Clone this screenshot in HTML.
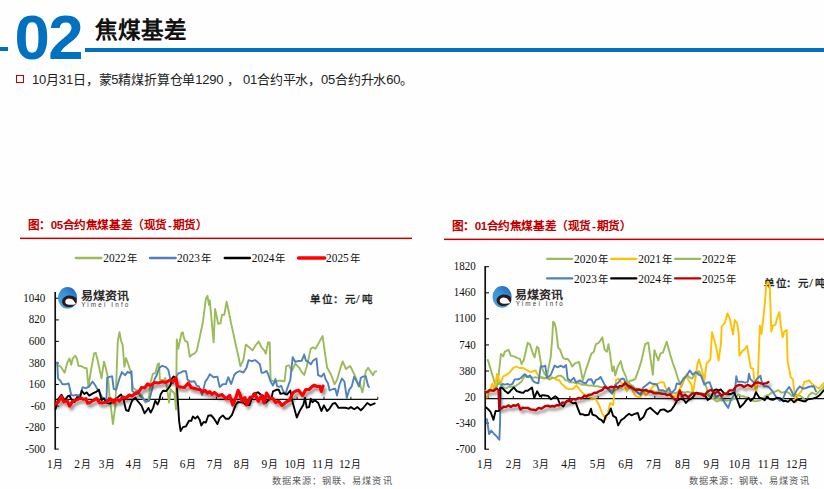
<!DOCTYPE html>
<html lang="zh-CN"><head><meta charset="utf-8">
<style>
html,body{margin:0;padding:0;background:#fefefe;}
body{width:824px;height:489px;position:relative;overflow:hidden;font-family:"Liberation Sans",sans-serif;}
.abs{position:absolute;white-space:nowrap;}
#num{left:14.6px;top:2.6px;font-size:63.5px;font-weight:bold;color:#0070c0;line-height:68px;letter-spacing:-1.6px;}
#ttl{left:95px;top:15.6px;font-size:22.6px;font-weight:bold;color:#111;line-height:30px;}
#txt{left:32px;top:70.8px;font-size:13px;color:#222;line-height:18px;letter-spacing:-0.2px;}
svg{position:absolute;left:0;top:0;}
</style></head><body>
<div class="abs" style="left:0;top:47px;width:8px;height:4px;background:#0070c0"></div>
<div class="abs" style="left:85px;top:48px;width:739px;height:4px;background:#0070c0"></div>
<div class="abs" id="num">02</div>
<div class="abs" id="ttl">焦煤基差</div>
<div class="abs" style="left:16px;top:75px;width:5.5px;height:5.5px;border:1.9px solid #c00000"></div>
<div class="abs" id="txt">10月31日，蒙5精煤折算仓单1290 ， 01合约平水，05合约升水60。</div>
<svg width="824" height="489" viewBox="0 0 824 489">
<defs>
<linearGradient id="lg" x1="0.2" y1="0.9" x2="0.8" y2="0"><stop offset="0" stop-color="#45a0de"/><stop offset="0.55" stop-color="#3a92d6"/><stop offset="0.9" stop-color="#2a6fc0"/><stop offset="1" stop-color="#1a4fa0"/></linearGradient>
<filter id="sh" x="-10%" y="-50%" width="120%" height="200%"><feGaussianBlur in="SourceAlpha" stdDeviation="1.6"/><feOffset dx="2" dy="3" result="b"/><feComponentTransfer><feFuncA type="linear" slope="0.45"/></feComponentTransfer><feMerge><feMergeNode/><feMergeNode in="SourceGraphic"/></feMerge></filter>
</defs>
<g font-family="Liberation Sans" font-weight="bold" font-size="11.6" letter-spacing="-0.43" fill="#c00000">
<text x="27.6" y="229">图：05合约焦煤基差（现货<tspan dx="1">-</tspan><tspan dx="1.5">期货）</tspan></text>
<text x="451.6" y="230">图：01合约焦煤基差（现货<tspan dx="1">-</tspan><tspan dx="1.5">期货）</tspan></text>
</g>
<rect x="20" y="237.6" width="392" height="1.5" fill="#c00000"/>
<rect x="444" y="238.6" width="380" height="1.5" fill="#c00000"/>
<g font-family="Liberation Serif" fill="#111">
<line x1="75.8" y1="258" x2="101.5" y2="258" stroke="#9bbb59" stroke-width="2.3" stroke-linecap="round"/><text transform="translate(103.30,262.10) scale(1,1.15)" font-size="11.4" >2022</text><text x="126.90" y="262.30" font-size="10.4">年</text>
<line x1="150.0" y1="258" x2="175.7" y2="258" stroke="#4f81bd" stroke-width="2.3" stroke-linecap="round"/><text transform="translate(177.10,262.10) scale(1,1.15)" font-size="11.4" >2023</text><text x="200.70" y="262.30" font-size="10.4">年</text>
<line x1="224.7" y1="258" x2="250.0" y2="258" stroke="#000" stroke-width="2.3" stroke-linecap="round"/><text transform="translate(251.80,262.10) scale(1,1.15)" font-size="11.4" >2024</text><text x="275.40" y="262.30" font-size="10.4">年</text>
<line x1="298.5" y1="258" x2="324.7" y2="258" stroke="#ff0000" stroke-width="3.3" stroke-linecap="round"/><text transform="translate(326.00,262.10) scale(1,1.15)" font-size="11.4" >2025</text><text x="349.60" y="262.30" font-size="10.4">年</text>
<text transform="translate(45.30,301.90) scale(1,1.13)" font-size="11" text-anchor="end" >1040</text>
<text transform="translate(45.30,323.45) scale(1,1.13)" font-size="11" text-anchor="end" >820</text>
<text transform="translate(45.30,345.00) scale(1,1.13)" font-size="11" text-anchor="end" >600</text>
<text transform="translate(45.30,366.55) scale(1,1.13)" font-size="11" text-anchor="end" >380</text>
<text transform="translate(45.30,388.10) scale(1,1.13)" font-size="11" text-anchor="end" >160</text>
<text transform="translate(45.30,409.65) scale(1,1.13)" font-size="11" text-anchor="end" >-60</text>
<text transform="translate(45.30,431.20) scale(1,1.13)" font-size="11" text-anchor="end" >-280</text>
<text transform="translate(45.30,452.75) scale(1,1.13)" font-size="11" text-anchor="end" >-500</text>
<text transform="translate(47.00,468.00) scale(1,1.1)" font-size="11.4" >1</text><text x="53.20" y="468.3" font-size="9.8">月</text>
<text transform="translate(74.30,468.00) scale(1,1.1)" font-size="11.4" >2</text><text x="80.50" y="468.3" font-size="9.8">月</text>
<text transform="translate(98.80,468.00) scale(1,1.1)" font-size="11.4" >3</text><text x="105.00" y="468.3" font-size="9.8">月</text>
<text transform="translate(125.50,468.00) scale(1,1.1)" font-size="11.4" >4</text><text x="131.70" y="468.3" font-size="9.8">月</text>
<text transform="translate(152.80,468.00) scale(1,1.1)" font-size="11.4" >5</text><text x="159.00" y="468.3" font-size="9.8">月</text>
<text transform="translate(179.80,468.00) scale(1,1.1)" font-size="11.4" >6</text><text x="186.00" y="468.3" font-size="9.8">月</text>
<text transform="translate(206.80,468.00) scale(1,1.1)" font-size="11.4" >7</text><text x="213.00" y="468.3" font-size="9.8">月</text>
<text transform="translate(233.80,468.00) scale(1,1.1)" font-size="11.4" >8</text><text x="240.00" y="468.3" font-size="9.8">月</text>
<text transform="translate(261.50,468.00) scale(1,1.1)" font-size="11.4" >9</text><text x="267.70" y="468.3" font-size="9.8">月</text>
<text transform="translate(284.40,468.00) scale(1,1.1)" font-size="11.4" >10</text><text x="296.30" y="468.3" font-size="9.8">月</text>
<text transform="translate(311.90,468.00) scale(1,1.1)" font-size="11.4" >11</text><text x="323.80" y="468.3" font-size="9.8">月</text>
<text transform="translate(338.90,468.00) scale(1,1.1)" font-size="11.4" >12</text><text x="350.80" y="468.3" font-size="9.8">月</text>
</g>
<g stroke="#111" fill="none">
<line x1="55.2" y1="292" x2="55.2" y2="449.5" stroke-width="1.7"/>
<line x1="55" y1="298.3" x2="58.8" y2="298.3" stroke-width="1.1"/>
<line x1="55" y1="319.9" x2="58.8" y2="319.9" stroke-width="1.1"/>
<line x1="55" y1="341.4" x2="58.8" y2="341.4" stroke-width="1.1"/>
<line x1="55" y1="363.0" x2="58.8" y2="363.0" stroke-width="1.1"/>
<line x1="55" y1="384.5" x2="58.8" y2="384.5" stroke-width="1.1"/>
<line x1="55" y1="406.1" x2="58.8" y2="406.1" stroke-width="1.1"/>
<line x1="55" y1="427.6" x2="58.8" y2="427.6" stroke-width="1.1"/>
<line x1="55" y1="449.1" x2="58.8" y2="449.1" stroke-width="1.1"/>
<line x1="55" y1="399.4" x2="377.8" y2="399.4" stroke-width="1.1"/>
<line x1="81.9" y1="396.8" x2="81.9" y2="399.4" stroke-width="1"/>
<line x1="108.8" y1="396.8" x2="108.8" y2="399.4" stroke-width="1"/>
<line x1="135.7" y1="396.8" x2="135.7" y2="399.4" stroke-width="1"/>
<line x1="162.6" y1="396.8" x2="162.6" y2="399.4" stroke-width="1"/>
<line x1="189.5" y1="396.8" x2="189.5" y2="399.4" stroke-width="1"/>
<line x1="216.4" y1="396.8" x2="216.4" y2="399.4" stroke-width="1"/>
<line x1="243.3" y1="396.8" x2="243.3" y2="399.4" stroke-width="1"/>
<line x1="270.2" y1="396.8" x2="270.2" y2="399.4" stroke-width="1"/>
<line x1="297.1" y1="396.8" x2="297.1" y2="399.4" stroke-width="1"/>
<line x1="324.0" y1="396.8" x2="324.0" y2="399.4" stroke-width="1"/>
<line x1="350.9" y1="396.8" x2="350.9" y2="399.4" stroke-width="1"/>
<line x1="377.8" y1="396.8" x2="377.8" y2="399.4" stroke-width="1"/>
</g>
<g transform="translate(54,283)">
<ellipse cx="13.6" cy="14.9" rx="9.6" ry="10.9" fill="url(#lg)"/>
<path d="M22.2,15 C20.5,13.6 18,12.4 15.3,12.5 C12,12.6 9,14.5 8.2,17.3 C7.6,20.2 9.5,23.2 13,23.9 C16.5,24.5 20,22.9 22.2,20.9 C22.9,19.2 22.9,16.8 22.2,15 Z" fill="#2a1a1a"/>
<path d="M11.2,18.9 C11.1,16.9 12.9,15.5 15,15.5 C16.8,15.5 18.4,16.2 19.5,17.4 C20.4,18.4 21,19.8 22,20.9 C19.8,21.8 17.5,21.9 15.3,21.7 C13,21.5 11.3,20.5 11.2,18.9 Z" fill="#fff"/>
<text transform="translate(26.5,16.6) scale(1,0.93)" font-family="Liberation Sans" font-weight="bold" font-size="12" letter-spacing="-0.3" fill="#2e2a2a">易煤资讯</text>
<text x="27.2" y="23.5" font-family="Liberation Sans" font-size="6.3" letter-spacing="2.15" fill="#3a3a3a">Yimei Info</text>
</g>
<g font-family="Liberation Sans" font-size="10.5" fill="#1a1a1a" stroke="#1a1a1a" stroke-width="0.35"><text x="310.4" y="303.2">单</text><text x="322.4" y="303.2">位</text><text x="333.0" y="303.2">：</text><text x="344.6" y="303.2">元</text><text x="361.6" y="303.2">吨</text><text x="356.0" y="303.4" font-family="Liberation Serif" font-weight="normal" stroke-width="0.2" font-size="13">/</text></g>
<text x="272" y="483.5" font-family="Liberation Sans" font-size="9.2" letter-spacing="1.05" fill="#5a5a5a">数据来源：钢联、易煤资讯</text>
<polyline points="57.3,365.3 60.5,366.3 64.6,372.7 67.1,363.3 69.5,358.4 71.2,364.8 72.8,358.3 75.3,355.7 76.9,358.4 78.5,365.7 81.2,366.0 84.0,367.7 86.7,368.3 88.4,386.4 91.2,369.2 94.1,353.4 95.7,352.8 97.4,359.2 99.0,366.5 101.5,378.4 104.0,361.6 105.6,367.2 108.0,377.8 109.6,396.3 111.3,410.5 112.9,424.0 115.4,405.6 117.8,340.9 119.5,332.2 121.1,341.0 122.7,345.2 124.4,366.8 126.0,358.3 127.6,362.3 131.0,372.6 133.0,387.9 136.1,390.1 139.2,393.5 142.3,396.3 145.3,402.6 148.4,401.0 150.7,381.8 153.0,373.6 155.3,373.3 157.6,364.4 159.1,363.4 159.9,379.7 163.7,380.4 165.3,378.1 166.8,386.6 169.1,402.6 170.6,389.3 174.5,393.5 176.0,409.5 176.8,339.5 178.3,348.8 181.4,333.4 182.9,332.4 183.7,337.1 185.2,341.0 187.5,341.9 189.8,356.9 192.1,354.6 194.4,353.6 196.7,350.9 199.8,336.9 202.9,322.0 205.9,298.6 207.5,295.9 209.0,305.0 209.8,300.5 213.6,342.4 215.1,308.9 218.2,323.9 220.5,323.3 222.0,314.7 224.3,314.9 226.6,301.7 228.9,312.3 231.2,323.9 233.5,334.0 235.8,345.3 238.1,355.0 240.4,366.3 243.5,359.5 245.8,344.6 250.0,348.1 252.4,350.4 255.6,345.3 258.7,341.5 261.8,347.9 264.2,350.2 265.8,353.7 268.1,342.4 269.7,342.5 270.6,379.9 274.7,381.8 278.0,380.6 281.2,380.8 284.5,381.4 286.2,366.1 289.0,365.3 291.9,371.1 295.2,363.7 299.3,367.8 301.8,372.2 304.2,375.0 306.7,366.7 310.7,348.9 313.1,347.3 315.5,348.7 317.8,344.6 320.2,340.3 322.6,336.1 324.9,352.6 327.1,367.5 331.2,375.0 334.5,384.2 337.0,380.0 340.3,368.4 342.7,361.4 346.0,369.1 350.1,366.0 352.6,370.8 355.0,375.9 357.5,382.2 359.9,384.1 362.4,392.3 364.0,384.2 365.7,371.6 368.1,367.7 370.6,371.6 373.0,375.3 374.7,371.7 376.3,371.4" fill="none" stroke="#9bbb59" stroke-width="1.9" stroke-linejoin="round" stroke-linecap="round" />
<polyline points="57.3,362.5 58.0,378.3 60.5,380.9 62.2,384.1 63.8,384.3 66.0,384.2 68.7,383.4 70.4,391.2 71.2,394.8 73.5,395.6 75.7,394.8 78.0,395.5 80.2,394.8 82.6,387.2 85.9,388.3 89.2,386.4 92.5,381.5 94.9,384.7 97.4,389.1 99.8,392.9 103.0,398.6 106.4,400.3 107.2,377.7 109.6,376.8 112.1,376.2 113.7,388.8 116.2,389.8 119.5,378.3 121.9,372.1 125.2,375.2 127.6,371.8 130.1,373.2 131.5,371.2 132.3,390.9 134.6,392.7 137.7,390.4 140.0,395.8 143.8,399.5 146.1,401.2 149.2,400.8 152.2,388.7 154.5,379.5 156.8,375.0 159.1,368.1 162.2,365.8 166.0,367.2 168.3,369.8 170.6,380.4 173.0,383.3 176.0,377.4 178.3,373.4 180.6,372.6 182.9,371.2 186.0,371.1 187.5,379.6 190.6,381.7 194.4,381.3 196.7,385.6 199.0,386.5 202.1,394.9 205.2,381.9 207.5,378.6 209.8,374.2 213.6,377.2 217.4,376.6 219.7,387.0 222.8,384.2 225.9,384.1 228.2,377.2 231.2,384.0 234.3,375.0 236.6,372.5 239.7,371.1 243.5,372.5 246.6,367.5 248.5,360.2 251.7,361.2 255.0,360.1 257.5,362.1 259.9,364.2 261.6,372.8 264.1,372.5 266.5,370.9 268.1,374.2 270.6,381.5 273.0,385.5 275.5,379.1 277.1,386.4 279.6,386.8 281.2,385.7 282.9,390.5 285.3,394.5 287.8,386.8 290.3,380.0 292.7,357.2 295.2,361.8 298.4,361.0 301.7,360.9 304.2,354.6 305.8,360.4 308.4,362.1 310.8,364.3 313.2,360.5 316.5,358.6 318.1,375.1 321.4,376.7 323.9,373.5 325.5,379.0 328.0,383.4 329.6,390.5 332.9,389.0 335.3,388.8 337.0,395.5 339.4,385.0 341.9,378.6 344.4,381.5 346.8,397.9 349.3,389.6 351.7,386.5 354.2,376.6 356.7,381.6 359.1,386.5 360.8,377.8 363.2,376.5 365.7,376.1 368.1,385.7 369.0,387.0" fill="none" stroke="#4f81bd" stroke-width="1.9" stroke-linejoin="round" stroke-linecap="round" />
<polyline points="55.6,409.0 58.0,399.3 61.4,394.7 64.6,400.5 67.9,396.2 69.5,395.5 71.2,399.0 74.5,402.0 76.9,397.3 80.2,397.4 81.8,390.7 84.3,394.0 86.7,392.4 89.2,395.6 93.3,393.1 96.6,391.6 99.0,389.8 101.5,400.2 103.9,398.2 106.4,402.9 109.6,403.6 112.9,401.6 116.2,398.7 118.6,396.6 121.1,394.6 123.6,400.0 126.0,410.1 128.5,411.0 130.9,403.6 132.3,400.3 135.4,397.7 138.0,401.5 141.5,405.6 144.6,413.3 146.9,410.2 148.4,407.9 150.7,412.6 153.0,408.1 155.3,400.8 157.6,404.4 159.1,400.9 160.7,394.2 163.0,390.8 166.0,391.0 168.3,388.6 170.6,384.9 172.2,378.1 173.7,376.4 175.2,377.9 176.8,384.1 179.1,420.9 180.6,431.1 182.9,427.1 186.0,426.3 189.0,420.8 191.3,420.9 192.9,416.4 195.2,418.6 197.5,416.3 199.8,420.0 201.3,425.5 203.6,422.0 205.9,422.5 208.2,415.8 211.3,415.3 214.4,419.2 217.4,424.1 219.7,418.1 222.8,415.4 225.9,418.8 228.9,418.7 232.0,414.8 235.8,404.6 238.1,402.0 240.4,402.4 243.5,402.5 246.0,405.4 249.6,404.9 253.4,393.7 255.8,393.0 258.0,392.3 260.8,394.8 263.0,395.4 265.7,402.8 268.0,400.5 271.4,398.1 273.0,391.4 276.3,389.8 278.8,389.6 280.4,393.9 283.7,393.1 287.0,394.6 290.3,390.5 291.9,399.6 294.4,408.8 296.8,417.5 300.1,410.2 303.4,404.7 305.0,397.9 306.7,407.7 309.1,407.1 310.8,398.8 312.4,402.2 314.9,400.2 318.1,402.7 321.4,411.0 323.9,405.4 327.1,411.0 329.6,408.6 332.9,403.6 335.3,403.0 338.6,407.9 341.9,407.7 345.2,407.7 348.5,408.7 350.9,407.1 354.2,409.2 357.5,407.1 360.8,410.3 363.2,408.0 367.3,403.0 370.6,405.2 374.7,403.4" fill="none" stroke="#000" stroke-width="1.9" stroke-linejoin="round" stroke-linecap="round" />
<g filter="url(#sh)"><polyline points="55.6,404.0 58.0,402.4 61.4,396.6 63.8,401.8 67.1,400.7 69.5,406.0 72.8,401.2 76.9,399.7 80.2,398.1 83.5,399.2 85.9,398.7 87.6,403.1 90.0,402.5 93.3,400.5 96.6,398.4 99.8,402.7 103.0,402.8 106.4,402.0 110.5,398.7 113.7,402.6 116.2,398.9 119.5,401.1 122.7,397.1 126.0,398.0 129.3,395.0 131.9,396.0 134.6,394.0 138.4,392.7 141.5,387.5 144.6,387.9 147.6,384.0 150.7,385.6 154.5,382.5 158.4,383.0 162.2,381.8 166.0,382.4 169.9,380.2 172.9,381.3 176.0,377.9 177.5,386.7 180.6,387.0 184.4,387.5 188.3,383.0 191.3,387.8 194.4,388.4 197.5,389.3 200.6,389.9 202.9,391.8 205.2,390.4 207.5,393.2 209.8,391.7 212.1,394.4 214.4,392.4 218.2,395.8 222.0,394.6 225.9,398.7 229.7,395.4 232.8,405.0 235.8,397.7 238.1,390.4 239.7,393.5 242.0,401.0 245.0,397.7 246.6,404.9 250.0,397.3 252.6,396.7 255.0,393.8 258.3,401.3 261.6,395.4 264.0,403.0 266.5,393.1 269.8,398.4 273.0,398.7 275.5,402.4 278.8,401.3 282.0,405.5 286.2,402.0 289.4,400.3 292.7,393.0 295.2,391.3 298.5,390.3 302.6,395.6 305.8,389.6 309.1,389.5 311.0,387.6 314.0,385.2 317.3,386.5 319.8,386.3 321.4,391.4 323.0,386.1" fill="none" stroke="#ff0000" stroke-width="3.2" stroke-linejoin="round" stroke-linecap="round" /></g>
<g font-family="Liberation Serif" fill="#111">
<line x1="547.1" y1="258.8" x2="572.2" y2="258.8" stroke="#9bbb59" stroke-width="2.3" stroke-linecap="round"/><text transform="translate(574.10,262.90) scale(1,1.15)" font-size="11.4" >2020</text><text x="597.70" y="263.10" font-size="10.4">年</text>
<line x1="611.2" y1="258.8" x2="636.3000000000001" y2="258.8" stroke="#ffc000" stroke-width="2.3" stroke-linecap="round"/><text transform="translate(638.20,262.90) scale(1,1.15)" font-size="11.4" >2021</text><text x="661.80" y="263.10" font-size="10.4">年</text>
<line x1="675.1" y1="258.8" x2="700.2" y2="258.8" stroke="#9bbb59" stroke-width="2.3" stroke-linecap="round"/><text transform="translate(702.10,262.90) scale(1,1.15)" font-size="11.4" >2022</text><text x="725.70" y="263.10" font-size="10.4">年</text>
<line x1="547.1" y1="278.4" x2="572.2" y2="278.4" stroke="#4f81bd" stroke-width="2.3" stroke-linecap="round"/><text transform="translate(574.10,282.50) scale(1,1.15)" font-size="11.4" >2023</text><text x="597.70" y="282.70" font-size="10.4">年</text>
<line x1="611.2" y1="278.4" x2="636.3000000000001" y2="278.4" stroke="#000" stroke-width="2.3" stroke-linecap="round"/><text transform="translate(638.20,282.50) scale(1,1.15)" font-size="11.4" >2024</text><text x="661.80" y="282.70" font-size="10.4">年</text>
<line x1="675.1" y1="278.4" x2="700.2" y2="278.4" stroke="#c00000" stroke-width="2.3" stroke-linecap="round"/><text transform="translate(702.10,282.50) scale(1,1.15)" font-size="11.4" >2025</text><text x="725.70" y="282.70" font-size="10.4">年</text>
<text transform="translate(475.80,270.30) scale(1,1.13)" font-size="11" text-anchor="end" >1820</text>
<text transform="translate(475.80,296.37) scale(1,1.13)" font-size="11" text-anchor="end" >1460</text>
<text transform="translate(475.80,322.44) scale(1,1.13)" font-size="11" text-anchor="end" >1100</text>
<text transform="translate(475.80,348.51) scale(1,1.13)" font-size="11" text-anchor="end" >740</text>
<text transform="translate(475.80,374.58) scale(1,1.13)" font-size="11" text-anchor="end" >380</text>
<text transform="translate(475.80,400.65) scale(1,1.13)" font-size="11" text-anchor="end" >20</text>
<text transform="translate(475.80,426.72) scale(1,1.13)" font-size="11" text-anchor="end" >-340</text>
<text transform="translate(475.80,452.79) scale(1,1.13)" font-size="11" text-anchor="end" >-700</text>
<text transform="translate(476.90,468.00) scale(1,1.1)" font-size="11.4" >1</text><text x="483.10" y="468.3" font-size="9.8">月</text>
<text transform="translate(505.80,468.00) scale(1,1.1)" font-size="11.4" >2</text><text x="512.00" y="468.3" font-size="9.8">月</text>
<text transform="translate(532.70,468.00) scale(1,1.1)" font-size="11.4" >3</text><text x="538.90" y="468.3" font-size="9.8">月</text>
<text transform="translate(561.20,468.00) scale(1,1.1)" font-size="11.4" >4</text><text x="567.40" y="468.3" font-size="9.8">月</text>
<text transform="translate(589.80,468.00) scale(1,1.1)" font-size="11.4" >5</text><text x="596.00" y="468.3" font-size="9.8">月</text>
<text transform="translate(618.20,468.00) scale(1,1.1)" font-size="11.4" >6</text><text x="624.40" y="468.3" font-size="9.8">月</text>
<text transform="translate(646.10,468.00) scale(1,1.1)" font-size="11.4" >7</text><text x="652.30" y="468.3" font-size="9.8">月</text>
<text transform="translate(675.00,468.00) scale(1,1.1)" font-size="11.4" >8</text><text x="681.20" y="468.3" font-size="9.8">月</text>
<text transform="translate(703.40,468.00) scale(1,1.1)" font-size="11.4" >9</text><text x="709.60" y="468.3" font-size="9.8">月</text>
<text transform="translate(728.70,468.00) scale(1,1.1)" font-size="11.4" >10</text><text x="740.60" y="468.3" font-size="9.8">月</text>
<text transform="translate(757.70,468.00) scale(1,1.1)" font-size="11.4" >11</text><text x="769.60" y="468.3" font-size="9.8">月</text>
<text transform="translate(786.10,468.00) scale(1,1.1)" font-size="11.4" >12</text><text x="798.00" y="468.3" font-size="9.8">月</text>
</g>
<g stroke="#111" fill="none">
<line x1="485.2" y1="266" x2="485.2" y2="449.7" stroke-width="1.7"/>
<line x1="485" y1="266.7" x2="489" y2="266.7" stroke-width="1.1"/>
<line x1="485" y1="292.8" x2="489" y2="292.8" stroke-width="1.1"/>
<line x1="485" y1="318.8" x2="489" y2="318.8" stroke-width="1.1"/>
<line x1="485" y1="344.9" x2="489" y2="344.9" stroke-width="1.1"/>
<line x1="485" y1="371.0" x2="489" y2="371.0" stroke-width="1.1"/>
<line x1="485" y1="397.0" x2="489" y2="397.0" stroke-width="1.1"/>
<line x1="485" y1="423.1" x2="489" y2="423.1" stroke-width="1.1"/>
<line x1="485" y1="449.2" x2="489" y2="449.2" stroke-width="1.1"/>
<line x1="485" y1="398.6" x2="824" y2="398.6" stroke-width="1.1"/>
<line x1="513.3" y1="396" x2="513.3" y2="398.6" stroke-width="1"/>
<line x1="541.6" y1="396" x2="541.6" y2="398.6" stroke-width="1"/>
<line x1="569.9" y1="396" x2="569.9" y2="398.6" stroke-width="1"/>
<line x1="598.2" y1="396" x2="598.2" y2="398.6" stroke-width="1"/>
<line x1="626.5" y1="396" x2="626.5" y2="398.6" stroke-width="1"/>
<line x1="654.8" y1="396" x2="654.8" y2="398.6" stroke-width="1"/>
<line x1="683.1" y1="396" x2="683.1" y2="398.6" stroke-width="1"/>
<line x1="711.4" y1="396" x2="711.4" y2="398.6" stroke-width="1"/>
<line x1="739.7" y1="396" x2="739.7" y2="398.6" stroke-width="1"/>
<line x1="768.0" y1="396" x2="768.0" y2="398.6" stroke-width="1"/>
<line x1="796.3" y1="396" x2="796.3" y2="398.6" stroke-width="1"/>
</g>
<g transform="translate(488.5,282)">
<ellipse cx="13.6" cy="14.9" rx="9.6" ry="10.9" fill="url(#lg)"/>
<path d="M22.2,15 C20.5,13.6 18,12.4 15.3,12.5 C12,12.6 9,14.5 8.2,17.3 C7.6,20.2 9.5,23.2 13,23.9 C16.5,24.5 20,22.9 22.2,20.9 C22.9,19.2 22.9,16.8 22.2,15 Z" fill="#2a1a1a"/>
<path d="M11.2,18.9 C11.1,16.9 12.9,15.5 15,15.5 C16.8,15.5 18.4,16.2 19.5,17.4 C20.4,18.4 21,19.8 22,20.9 C19.8,21.8 17.5,21.9 15.3,21.7 C13,21.5 11.3,20.5 11.2,18.9 Z" fill="#fff"/>
<text transform="translate(26.5,16.6) scale(1,0.93)" font-family="Liberation Sans" font-weight="bold" font-size="12" letter-spacing="-0.3" fill="#2e2a2a">易煤资讯</text>
<text x="27.2" y="23.5" font-family="Liberation Sans" font-size="6.3" letter-spacing="2.15" fill="#3a3a3a">Yimei Info</text>
</g>
<g font-family="Liberation Sans" font-size="10.5" fill="#1a1a1a" stroke="#1a1a1a" stroke-width="0.35"><text x="763.6" y="287">单</text><text x="775.6" y="287">位</text><text x="786.2" y="287">：</text><text x="797.8" y="287">元</text><text x="814.8" y="287">吨</text><text x="809.2" y="287.2" font-family="Liberation Serif" font-weight="normal" stroke-width="0.2" font-size="13">/</text></g>
<text x="689" y="484.3" font-family="Liberation Sans" font-size="9.2" letter-spacing="1.05" fill="#5a5a5a">数据来源：钢联、易煤资讯</text>
<polyline points="487.8,359.9 490.9,370.1 494.0,380.2 496.3,388.7 498.6,375.7 500.9,354.0 503.2,356.4 504.7,351.9 508.5,349.7 510.8,355.6 514.7,356.6 517.4,358.1 520.0,358.8 521.6,364.1 523.9,359.7 527.7,342.7 530.0,344.4 533.1,354.0 534.6,357.4 536.9,346.6 538.4,348.0 541.5,366.5 544.6,374.1 546.9,376.2 548.4,368.8 550.7,357.1 552.3,337.5 553.1,321.8 554.6,323.2 556.0,328.8 558.2,347.8 559.9,349.4 563.0,357.9 565.3,359.1 567.6,358.8 569.9,361.7 572.2,366.5 575.3,363.2 579.1,362.0 582.9,380.3 585.2,372.0 588.3,362.6 591.4,353.6 593.7,352.0 596.0,344.1 598.3,343.1 600.6,340.3 602.3,337.3 604.6,349.6 606.9,351.7 608.4,344.3 610.0,353.4 612.3,371.2 613.8,366.5 615.3,375.5 617.6,367.1 620.7,361.1 623.0,370.2 626.1,377.2 627.6,382.6 630.2,380.8 632.7,380.3 635.3,378.9 638.3,370.7 641.4,360.9 645.2,344.1 648.3,342.7 650.6,359.4 652.9,374.8 654.4,350.1 658.3,360.3 660.6,353.3 662.9,352.6 666.7,341.7 670.6,355.9 672.9,363.3 675.2,369.4 678.2,379.4 681.3,387.1 683.6,380.9 686.7,374.3 689.0,377.2 692.0,378.7 695.1,374.9 698.9,371.1 702.0,376.4 705.8,385.6 709.7,396.5 712.7,398.5 716.6,401.6 720.0,400.1 722.0,400.5 724.4,399.8 726.9,400.9 729.3,400.3 731.6,400.1 734.0,398.8 736.2,397.2 738.5,394.2 741.0,396.2 743.2,396.1 745.5,397.4 747.7,397.2 750.8,399.8 753.9,401.1 757.0,401.2 760.0,400.3 762.7,398.6 765.4,395.8 769.2,394.6 771.9,392.6 774.6,391.8 778.4,390.1 780.7,392.2 783.0,392.6 786.1,391.5 789.2,393.2 792.2,396.3 794.6,394.8 797.0,394.7 800.0,395.8 803.0,397.9 806.0,401.7 809.1,394.9 812.2,392.5 816.0,394.7 819.8,390.9 822.9,387.9 824.0,386.0" fill="none" stroke="#9bbb59" stroke-width="1.9" stroke-linejoin="round" stroke-linecap="round" />
<polyline points="487.0,397.5 489.4,391.8 492.4,383.5 494.7,390.8 497.0,374.0 498.6,379.3 501.0,382.8 503.2,376.4 506.2,374.9 510.1,371.9 513.1,368.1 516.2,366.5 519.3,368.0 523.1,368.0 526.9,370.1 529.6,371.8 532.3,371.7 535.4,370.3 538.4,375.8 541.5,378.0 544.6,378.7 548.4,377.8 552.3,377.3 556.1,379.5 559.2,380.2 561.5,383.8 563.8,385.6 566.1,388.2 568.4,389.1 572.8,389.0 576.4,385.3 580.8,391.0 584.4,394.7 588.8,396.2 592.4,399.2 595.4,398.6 599.0,405.0 602.6,414.3 605.8,418.8 608.0,412.3 610.2,403.0 613.1,404.9 614.6,392.0 616.1,380.0 618.4,378.6 621.5,383.2 624.5,384.1 626.8,391.6 630.7,385.6 633.0,391.5 635.3,395.7 638.0,397.0 640.6,397.1 643.0,391.6 646.0,395.6 649.8,390.9 652.9,386.4 656.0,385.2 659.0,382.6 661.3,382.3 663.7,382.4 666.0,388.6 668.3,390.3 670.6,393.2 673.6,397.0 676.7,394.9 680.5,387.2 683.6,377.8 685.9,375.8 688.2,379.6 691.3,384.2 692.8,393.2 695.9,375.7 697.4,364.0 698.9,359.6 701.2,367.0 704.3,380.4 706.6,363.3 710.4,359.5 712.0,332.2 714.0,339.0 716.3,347.3 718.6,360.5 720.9,344.1 721.7,326.5 725.0,322.5 725.8,319.3 727.4,313.5 729.8,318.5 733.1,334.5 734.7,320.0 737.2,323.3 738.8,334.6 739.3,355.6 742.4,351.1 744.7,349.2 747.0,345.8 750.8,368.0 753.1,368.7 754.6,383.3 756.2,393.9 757.7,380.8 759.9,325.8 761.5,333.8 764.0,312.0 766.4,284.8 768.0,281.8 769.7,284.9 771.3,331.6 772.9,325.5 775.4,324.8 777.8,315.8 779.4,312.1 781.0,327.1 782.7,337.3 784.3,331.5 786.7,330.0 787.6,360.9 790.7,377.3 793.0,379.4 794.5,394.2 796.1,402.4 797.6,395.6 801.4,391.1 804.5,381.7 806.8,381.5 809.1,380.3 812.2,384.1 815.2,386.5 819.1,388.5 822.9,384.1 824.0,383.0" fill="none" stroke="#ffc000" stroke-width="1.9" stroke-linejoin="round" stroke-linecap="round" />
<polyline points="485.5,390.6 487.8,390.7 490.1,389.3 492.6,389.9 495.0,388.8 499.3,382.5 502.4,386.4 505.5,388.6 507.8,387.3 510.1,386.9 514.0,386.4 516.2,385.8 518.5,384.1 521.6,381.6 525.4,374.3 528.5,377.2 530.8,376.9 533.0,377.8 535.4,377.1 537.7,377.8 541.5,377.3 544.6,377.9 546.9,377.9 549.2,379.5 553.0,377.9 555.7,377.6 558.4,375.7 560.7,375.6 563.0,377.2 565.3,380.2 567.6,380.6 569.9,382.4 573.0,382.3 576.0,383.2 579.1,383.2 582.2,384.8 585.2,384.5 588.3,385.6 591.3,385.4 594.4,386.2 597.5,386.1 600.6,387.1 604.6,387.3 607.2,388.7 609.7,389.4 612.3,390.8 614.6,389.6 616.9,389.4 619.2,387.8 621.5,387.8 623.8,383.8 626.1,380.9 628.3,382.2 630.5,384.7 632.8,385.8 635.0,388.2 637.5,388.6 640.0,389.9 642.5,389.9 645.0,391.4 647.5,390.9 650.0,391.7 652.5,391.0 655.0,392.0 657.5,391.4 660.0,392.2 662.5,391.7 665.0,392.5 667.5,392.2 670.0,392.8 672.5,392.4 675.0,393.4 677.5,392.3 680.0,393.1 682.5,392.0 685.0,392.7 687.5,391.7 690.0,392.4 692.5,392.1 695.0,393.2 697.5,392.7 700.0,393.6 702.5,393.5 705.0,394.3 707.5,394.6 710.0,396.1 712.5,396.0 715.0,397.6 717.5,398.0 720.0,399.0" fill="none" stroke="#9bbb59" stroke-width="1.9" stroke-linejoin="round" stroke-linecap="round" />
<polyline points="486.9,419.2 489.1,434.2 491.3,430.5 494.2,434.0 497.1,436.9 499.3,439.8 500.0,425.4 500.7,386.7 502.4,384.0 504.9,384.6 507.4,384.0 509.9,384.8 512.4,384.0 514.7,379.4 518.5,379.3 520.8,378.0 524.6,374.3 526.9,377.1 530.0,375.5 533.1,381.0 535.4,382.6 538.4,383.2 540.7,366.3 543.0,366.6 545.3,365.6 546.9,377.9 550.7,375.0 554.6,365.6 557.6,367.3 560.7,365.6 563.8,367.3 566.1,365.0 567.6,378.6 570.7,380.9 573.7,377.8 576.0,382.3 579.9,380.4 582.9,382.5 586.0,383.3 588.3,379.5 591.4,379.3 593.7,384.2 596.0,379.8 598.3,379.2 600.6,377.0 604.6,384.6 608.4,389.5 612.3,393.9 615.3,385.0 618.4,382.4 621.5,378.7 623.8,378.8 626.1,384.2 629.1,387.8 633.0,388.5 636.8,391.7 640.6,394.9 642.9,387.7 646.8,384.8 649.8,382.3 652.9,384.0 656.7,384.1 659.0,390.3 662.9,390.2 666.0,391.8 669.0,387.8 671.3,393.3 675.2,389.2 676.7,383.5 679.8,384.1 683.6,378.8 686.7,375.7 689.7,370.4 692.8,374.8 695.9,372.0 698.9,374.8 701.0,375.7 704.3,384.7 707.4,382.5 709.7,382.3 711.2,387.0 713.5,391.7 715.8,397.1 720.0,394.8 724.0,401.6 728.2,407.9 731.0,399.7 734.7,393.9 736.3,376.2 737.6,381.7 742.0,381.7 744.9,382.6 747.8,381.9 749.0,373.7 750.2,378.8 754.3,383.2 757.0,378.7 760.4,375.7 762.0,382.7 764.0,386.4 766.5,386.1 769.0,387.4 772.3,391.0 776.4,397.4 780.0,400.7 783.0,398.7 786.1,391.0 789.2,386.9 791.5,391.0 793.8,396.2 796.8,390.2 799.9,386.4 803.0,388.7 806.0,388.0 809.9,386.5 813.7,386.3 816.0,391.3" fill="none" stroke="#4f81bd" stroke-width="1.9" stroke-linejoin="round" stroke-linecap="round" />
<polyline points="486.2,407.6 488.4,409.4 490.6,412.0 493.5,419.8 495.6,410.9 497.8,411.1 499.3,410.7 500.0,388.1 502.2,387.9 505.1,391.1 508.0,393.3 510.2,391.2 513.8,387.4 516.8,391.1 521.1,392.5 523.3,392.7 525.5,390.6 527.7,390.7 532.0,387.4 534.2,398.0 537.1,391.3 540.0,396.3 542.5,395.1 545.1,395.5 548.0,395.9 551.0,399.3 555.3,396.3 557.5,397.9 559.7,403.5 563.3,406.4 566.2,401.4 569.2,400.0 571.3,402.3 573.5,403.3 575.7,402.7 577.9,408.6 580.1,414.2 583.0,414.3 585.2,415.3 588.8,414.7 591.0,408.7 592.4,414.5 596.1,415.8 599.0,418.9 601.3,419.8 603.6,422.6 605.8,415.9 608.7,413.6 610.9,408.4 613.1,415.9 616.0,417.6 618.2,425.4 621.1,420.1 624.0,418.3 626.2,415.9 629.1,413.8 631.3,415.3 634.9,413.9 637.8,413.0 640.0,420.1 643.7,416.7 646.6,410.0 650.2,407.8 653.9,411.1 657.5,414.2 660.4,410.0 664.0,409.4 667.7,411.9 671.3,410.1 674.2,405.7 677.1,400.5 680.8,398.6 683.7,399.8 685.9,402.9 688.8,399.9 692.4,397.9 696.1,392.6 700.4,394.2 704.8,394.8 707.7,400.0 710.6,398.1 714.0,390.3 716.2,389.4 718.5,390.4 720.7,389.4 724.0,393.1 727.4,394.2 731.0,394.0 734.0,392.4 737.0,399.2 740.0,407.4 744.0,403.3 746.4,399.9 748.7,398.0 750.7,400.9 754.0,397.6 756.0,392.2 759.4,397.7 762.0,398.4 764.7,400.3 767.0,396.8 770.0,399.2 773.0,399.8 776.7,397.8 780.0,398.3 783.4,401.3 785.7,400.8 788.0,401.8 791.0,399.2 794.0,402.3 797.0,399.5 799.4,400.0 803.0,401.2 805.2,401.2 807.5,399.4 810.0,399.1 813.5,398.4 816.0,397.7 819.5,395.3 822.0,392.4 824.0,390.0" fill="none" stroke="#000" stroke-width="1.9" stroke-linejoin="round" stroke-linecap="round" />
<g filter="url(#sh)"><polyline points="485.5,392.3 487.6,392.2 489.8,390.1 493.5,390.9 496.4,388.5 498.6,390.1 499.3,408.1 501.5,408.6 503.6,406.6 505.8,407.0 508.4,405.4 510.9,406.9 513.3,405.3 515.8,405.7 518.2,404.3 520.4,409.6 522.6,407.7 524.8,407.9 527.7,407.9 530.6,409.4 533.5,409.7 536.0,410.2 538.6,407.9 541.2,408.7 543.7,407.2 545.1,406.1 548.0,405.7 550.2,406.7 552.4,406.0 554.6,406.5 556.8,405.0 559.7,405.2 562.6,402.4 565.2,402.9 567.7,400.8 570.2,401.3 572.8,398.9 575.7,399.6 578.6,397.9 581.5,398.4 584.4,395.7 586.6,396.7 588.8,394.7 591.7,394.6 594.6,392.6 596.8,392.7 599.0,391.3 602.6,389.9 604.6,386.9 608.0,388.3 610.9,386.7 613.8,387.2 615.8,386.2 617.9,387.5 619.9,386.1 622.6,385.7 625.3,383.1 628.4,385.9 631.4,387.2 635.3,389.9 639.1,389.5 643.0,390.7 646.0,389.8 648.3,391.6 650.6,391.3 654.4,393.4 658.3,393.1 662.0,393.8 665.2,394.1 667.5,395.2 669.8,394.3 672.9,397.9 675.2,399.9 677.5,398.4 679.8,390.4 682.0,396.5 685.1,394.7 688.2,397.3 692.0,393.6 695.9,393.2 698.0,393.8 701.2,393.7 704.3,395.9 707.4,391.6 711.2,389.7 714.3,393.2 718.1,391.6 721.7,395.9 724.0,393.6 726.3,394.2 729.3,390.4 733.2,390.4 736.2,386.2 739.3,384.9 741.6,385.2 743.9,387.0 747.7,384.8 751.6,386.7 755.4,382.8 758.5,382.5 760.8,383.4 763.1,383.8 766.9,383.1 768.4,382.1" fill="none" stroke="#c00000" stroke-width="2.4" stroke-linejoin="round" stroke-linecap="round" /></g>
</svg>
</body></html>
